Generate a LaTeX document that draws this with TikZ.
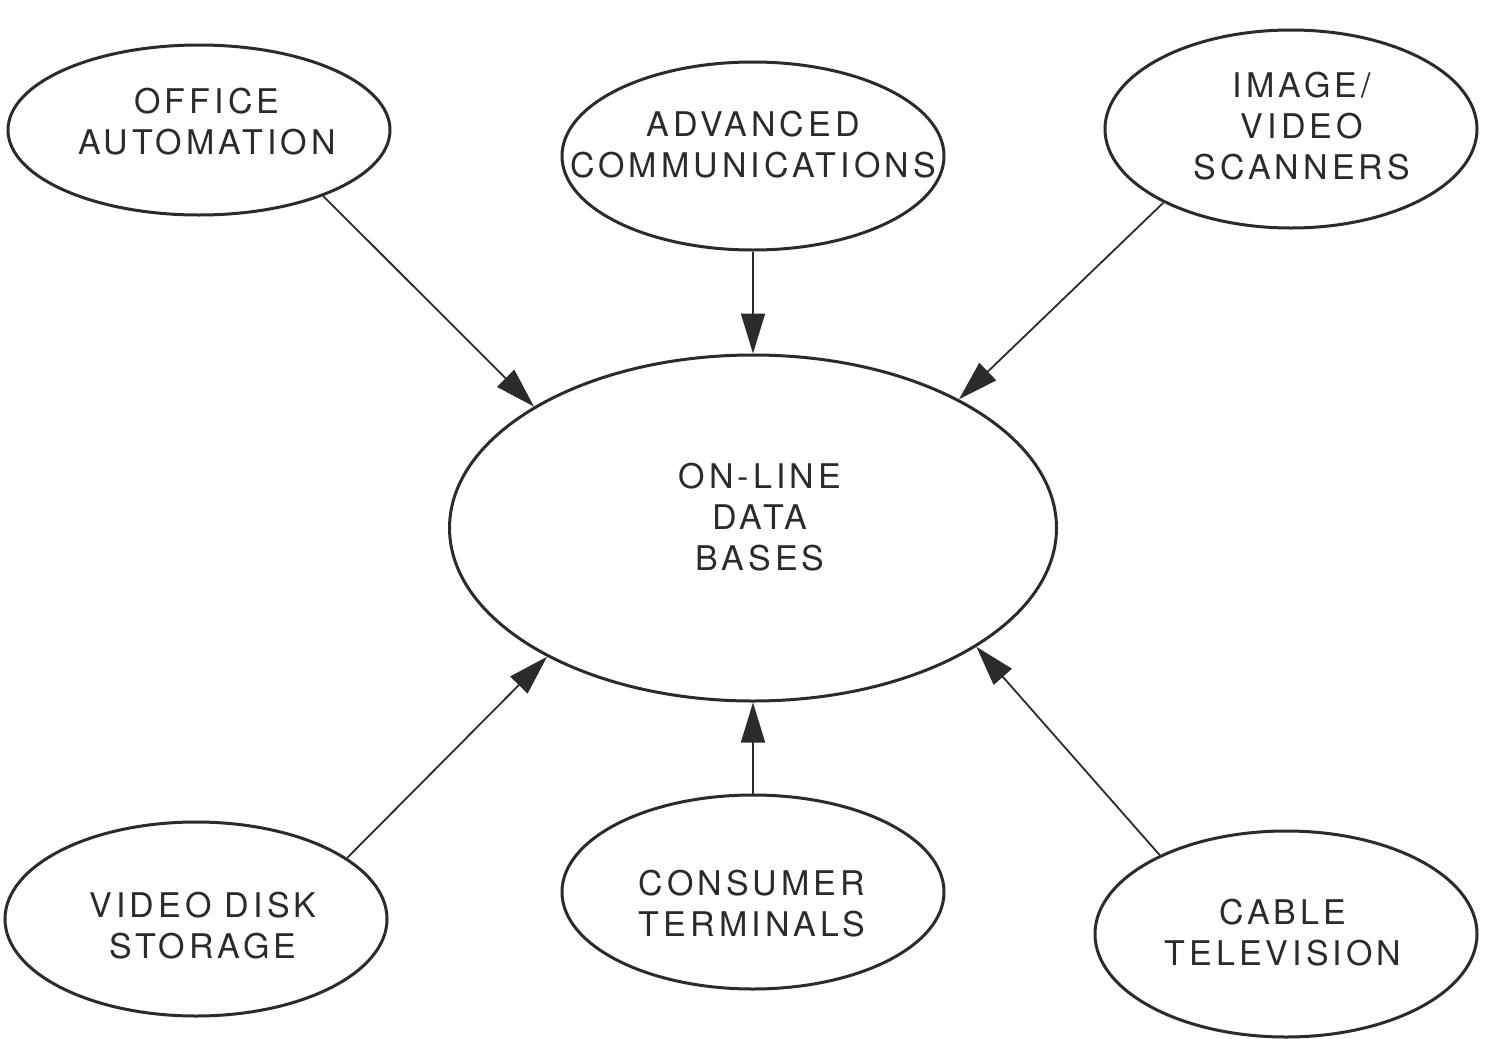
\documentclass[tikz,border=0pt]{standalone}
\usepackage{fontspec}
\setmainfont{TeX Gyre Heros}[LetterSpace=12]
\usetikzlibrary{arrows.meta,shapes.geometric}
\definecolor{ink}{HTML}{2B2B2B}

\begin{document}
\begin{tikzpicture}[x=1pt,y=-1pt,
  bubble/.style={draw=ink, line width=3pt, ellipse, inner sep=0pt},
  caption/.style={align=center, text=ink, inner sep=0pt,
    font=\fontsize{34}{41}\selectfont},
  feed/.style={draw=ink, line width=1.8pt,
    -{Triangle[length=40pt,width=24pt]}}]
\useasboundingbox (0,0) rectangle (1500,1039);

% outer sources
\node[bubble, minimum width=382pt, minimum height=170pt] (oa)  at (199,130) {};
\node[bubble, minimum width=382pt, minimum height=188pt] (ac)  at (753,156) {};
\node[bubble, minimum width=372pt, minimum height=198pt] (ivs) at (1291,129) {};
\node[bubble, minimum width=382pt, minimum height=194pt] (vds) at (196,919) {};
\node[bubble, minimum width=382pt, minimum height=194pt] (ct)  at (753,892) {};
\node[bubble, minimum width=382pt, minimum height=206pt] (ctv) at (1286,934) {};

% central store
\node[bubble, minimum width=607pt, minimum height=346pt] (db) at (753,528) {};

% labels
\node[caption] (oaT)  at (207,122)  {OFFICE\\AUTOMATION};
\node[caption] (acT)  at (753,145)  {ADVANCED\\COMMUNICATIONS};
\node[caption] (ivsT) at (1302,126) {IMAGE/\\VIDEO\\SCANNERS};
\node[caption] (dbT)  at (760,517)  {ON-LINE\\DATA\\BASES};
\node[caption] (vdsT) at (203,926)  {VIDEO DISK\\STORAGE};
\node[caption] (ctT)  at (752,904)  {CONSUMER\\TERMINALS};
\node[caption] (ctvT) at (1283,933) {CABLE\\TELEVISION};

% flows into the data bases
\draw[feed] (oa.-28)  -- (db.151.4);
\draw[feed] (ac.270)  -- (db.90);
\draw[feed] (ivs.210) -- (db.32.1);
\draw[feed] (vds.22.6) -- (db.212.9);
\draw[feed] (ct.90)   -- (db.270);
\draw[feed] (ctv.148) -- (db.-28.8);
\end{tikzpicture}
\end{document}
